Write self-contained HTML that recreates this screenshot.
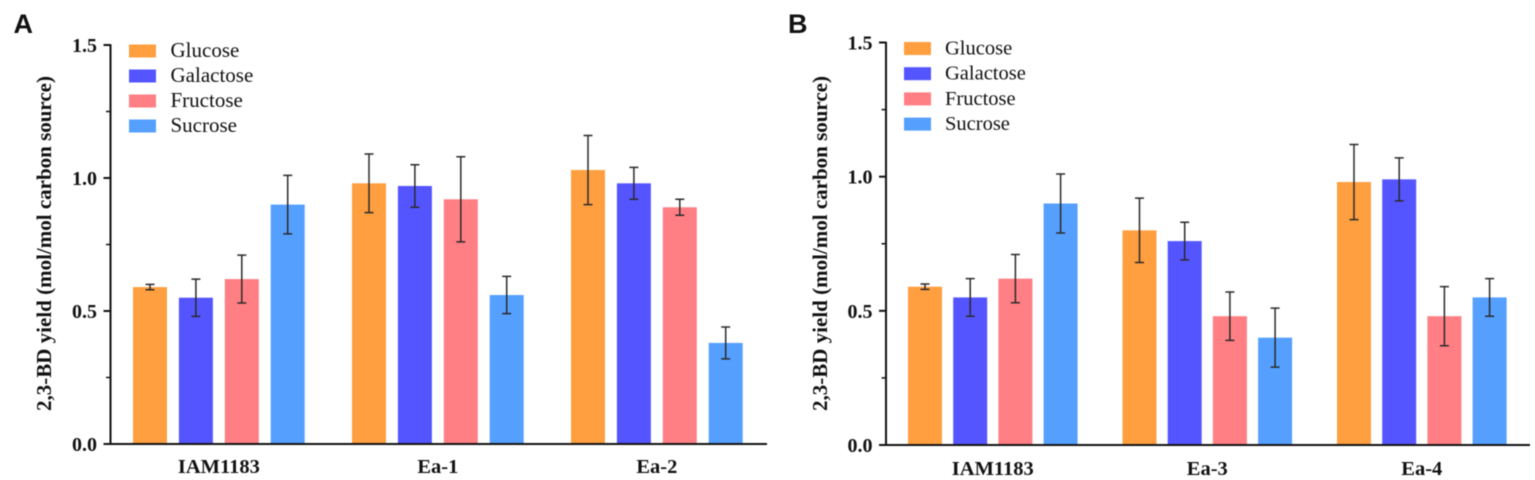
<!DOCTYPE html>
<html lang="en">
<head>
<meta charset="utf-8">
<title>2,3-BD yield by carbon source</title>
<style>
html,body{margin:0;padding:0;background:#fff;width:1535px;height:480px;overflow:hidden}
svg{display:block;filter:blur(.4px)}
text{font-family:"Liberation Serif",serif;fill:#111}
.b{font-weight:700}
.panel{font-family:"Liberation Sans",sans-serif;font-weight:700;font-size:27px}
</style>
</head>
<body>
<svg id="chart" xmlns="http://www.w3.org/2000/svg" width="1535" height="480" viewBox="0 0 1535 480"></svg>
<script>
// Shared labels
const seriesNames = ['Glucose', 'Galactose', 'Fructose', 'Sucrose'];
const seriesColors = ['#FF9F40', '#5555FF', '#FF7F84', '#55A0FF'];
const yTicks = [0, 0.5, 1.0, 1.5];
const yMinorTicks = [0.25, 0.75, 1.25];

// Panel A data (rows = strain, columns = sugar)
const categoriesA = ['IAM1183', 'Ea-1', 'Ea-2'];
const valuesA = [[0.59, 0.55, 0.62, 0.90], [0.98, 0.97, 0.92, 0.56], [1.03, 0.98, 0.89, 0.38]];
const lowerA = [[0.58, 0.48, 0.53, 0.79], [0.87, 0.89, 0.76, 0.49], [0.90, 0.92, 0.86, 0.32]];
const upperA = [[0.60, 0.62, 0.71, 1.01], [1.09, 1.05, 1.08, 0.63], [1.16, 1.04, 0.92, 0.44]];

// Panel B data
const categoriesB = ['IAM1183', 'Ea-3', 'Ea-4'];
const valuesB = [[0.59, 0.55, 0.62, 0.90], [0.80, 0.76, 0.48, 0.40], [0.98, 0.99, 0.48, 0.55]];
const lowerB = [[0.58, 0.48, 0.53, 0.79], [0.68, 0.69, 0.39, 0.29], [0.84, 0.91, 0.37, 0.48]];
const upperB = [[0.60, 0.62, 0.71, 1.01], [0.92, 0.83, 0.57, 0.51], [1.12, 1.07, 0.59, 0.62]];

const NS = 'http://www.w3.org/2000/svg';
const svg = document.getElementById('chart');

function make(tag, attrs, text) {
  const el = document.createElementNS(NS, tag);
  for (const k in attrs) el.setAttribute(k, attrs[k]);
  if (text !== undefined) el.textContent = text;
  svg.appendChild(el);
  return el;
}

function drawPanel(p) {
  const yScale = v => p.y0 + (p.y15 - p.y0) * v / 1.5;
  const xBar = (g, s) => p.start + g * p.groupStep + s * p.barStep;

  // panel letter
  const letter = make('text', {class: 'panel', x: p.letterX, y: p.letterY}, p.letter);
  
  

  // bars and error bars
  p.categories.forEach((cat, g) => {
    p.values[g].forEach((v, s) => {
      const x = xBar(g, s);
      const bar = make('rect', {x: x, y: yScale(v), width: p.barW, height: p.y0 - yScale(v), fill: seriesColors[s]});
      
      

      const cx = x + p.barW / 2;
      const yLo = yScale(p.lower[g][s]);
      const yHi = yScale(p.upper[g][s]);
      const d = 'M' + cx + ' ' + yLo + 'V' + yHi + 'M' + (cx - 4.5) + ' ' + yHi + 'H' + (cx + 4.5) + 'M' + (cx - 4.5) + ' ' + yLo + 'H' + (cx + 4.5);
      const err = make('path', {d: d, stroke: '#2a2a2a', 'stroke-width': 1.5, fill: 'none'});
      
      
    });

    const cx = xBar(g, 0) + (3 * p.barStep + p.barW) / 2;
    const label = make('text', {class: 'b', x: cx, y: p.y0 + p.xLabelDy, 'text-anchor': 'middle', 'font-size': 20.5}, cat);
    
    
  });

  // y axis
  const yAxis = make('line', {x1: p.axisX, x2: p.axisX, y1: yScale(1.5) - 0.8, y2: p.y0 + 1, stroke: '#111', 'stroke-width': 2});
  
  

  // x axis
  const xAxis = make('line', {x1: p.axisX - 7, x2: p.xEnd, y1: p.y0, y2: p.y0, stroke: '#111', 'stroke-width': 2});
  
  

  yTicks.forEach(t => {
    const y = yScale(t);
    const tick = make('line', {x1: p.axisX - 7, x2: p.axisX, y1: y, y2: y, stroke: '#111', 'stroke-width': 2});
    
    
    const lab = make('text', {class: 'b', x: p.axisX - 13.5, y: y + 7, 'text-anchor': 'end', 'font-size': 20}, t.toFixed(1));
    
    
  });
  yMinorTicks.forEach(t => {
    const y = yScale(t);
    const tick = make('line', {x1: p.axisX - 4.5, x2: p.axisX, y1: y, y2: y, stroke: '#111', 'stroke-width': 1.5});
    
    
  });

  // y title
  const title = make('text', {class: 'b', transform: 'translate(' + p.titleX + ' ' + p.titleY + ') rotate(-90)', 'text-anchor': 'middle', 'font-size': 21}, '2,3-BD yield (mol/mol carbon source)');
  
  

  // legend
  seriesNames.forEach((n, s) => {
    const y = p.legendY + s * p.legendStep;
    const swatch = make('rect', {x: p.legendX, y: y, width: 27, height: 13, fill: seriesColors[s]});
    
    
    const lab = make('text', {x: p.legendX + p.legendTextDx, y: y + 12.5, 'font-size': p.legendFont}, n);
    
    
  });
}

drawPanel({
  letter: 'A', letterX: 13.5, letterY: 33,
  categories: categoriesA, values: valuesA, lower: lowerA, upper: upperA,
  axisX: 110.5, xEnd: 767, y0: 444, y15: 45,
  start: 133, groupStep: 219, barStep: 45.9, barW: 34,
  xLabelDy: 29,
  titleX: 51, titleY: 243.5,
  legendX: 129, legendY: 44.5, legendStep: 25, legendTextDx: 41.5, legendFont: 21
});

drawPanel({
  letter: 'B', letterX: 788, letterY: 33,
  categories: categoriesB, values: valuesB, lower: lowerB, upper: upperB,
  axisX: 886, xEnd: 1530, y0: 445, y15: 42.5,
  start: 908, groupStep: 214.5, barStep: 45.2, barW: 34,
  xLabelDy: 30,
  titleX: 827, titleY: 243.5,
  legendX: 904, legendY: 42, legendStep: 25.2, legendTextDx: 41, legendFont: 20.5
});
</script>
</body>
</html>
